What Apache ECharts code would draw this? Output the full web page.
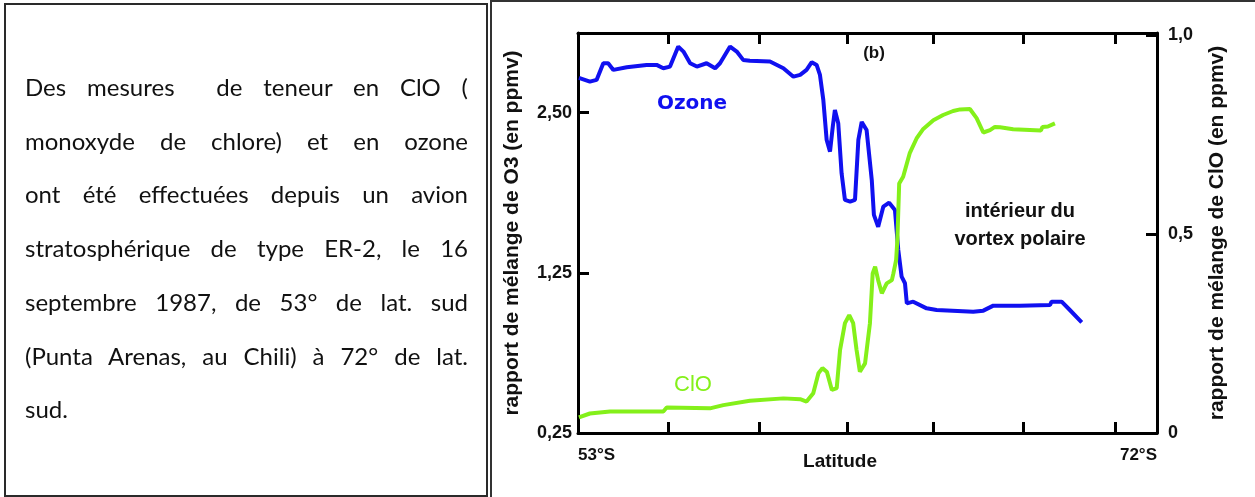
<!DOCTYPE html>
<html>
<head>
<meta charset="utf-8">
<script src="https://cdn.jsdelivr.net/npm/echarts@6/dist/echarts.min.js"></script>
<style>
  html, body { margin: 0; padding: 0; background: #fff; }
  #chart { position: absolute; left: 0; top: 0; width: 1255px; height: 497px; }
  #box {
    position: absolute; left: 4px; top: 3px; width: 480px; height: 490px;
    border: 2px solid #2a2a2a; box-sizing: content-box;
    font-family: "Lato", "Open Sans", sans-serif; font-size: 24px; color: #111;
  }
  #box .ln { position: absolute; left: 19px; width: 443px; text-align: justify; text-align-last: justify; white-space: normal; line-height: 30px; }
  #box .last { text-align: left; text-align-last: left; }
</style>
</head>
<body>
<div id="chart"></div>
<div id="box"></div>
<script>
// ---------- data ----------
const paragraphLines = [
  "Des mesures\u00a0 de teneur en ClO (",
  "monoxyde de chlore) et en ozone",
  "ont été effectuées depuis un avion",
  "stratosphérique de type ER-2, le 16",
  "septembre 1987, de 53° de lat. sud",
  "(Punta Arenas, au Chili) à 72° de lat.",
  "sud."
];

// latitude (°S) of each point
const ozoneLat = [53.03,53.39,53.61,53.83,53.99,54.16,54.60,55.25,55.58,55.80,56.02,56.29,56.46,56.68,56.90,57.22,57.50,57.66,57.99,58.21,58.42,58.64,59.30,59.74,60.07,60.29,60.50,60.67,60.83,60.94,61.05,61.16,61.27,61.36,61.43,61.54,61.65,61.76,61.93,62.09,62.20,62.31,62.47,62.64,62.71,62.85,63.02,63.21,63.40,63.51,63.62,63.73,63.79,64.00,64.44,64.77,65.97,66.30,66.63,67.50,68.49,68.54,68.87,69.14,69.53];
// ozone, in left-axis units
const ozoneVal = [2.771,2.742,2.756,2.886,2.886,2.834,2.855,2.873,2.873,2.847,2.860,3.016,2.977,2.886,2.860,2.886,2.847,2.886,3.016,2.977,2.912,2.906,2.899,2.847,2.781,2.795,2.834,2.894,2.873,2.795,2.600,2.287,2.196,2.391,2.521,2.418,2.027,1.819,1.806,1.819,2.287,2.428,2.365,1.975,1.702,1.610,1.767,1.798,1.741,1.429,1.220,1.169,1.012,1.025,0.973,0.960,0.947,0.955,0.994,0.994,0.999,1.025,1.025,0.960,0.864];

const cloLat = [53.03,53.39,54.05,55.80,55.91,57.33,57.77,58.64,59.74,60.29,60.50,60.72,60.89,61.02,61.17,61.33,61.49,61.60,61.76,61.90,62.03,62.14,62.25,62.42,62.58,62.67,62.75,62.85,62.97,63.13,63.30,63.35,63.44,63.48,63.54,63.67,63.89,64.11,64.33,64.66,64.98,65.31,65.54,65.86,66.08,66.30,66.52,66.68,66.85,67.28,68.19,68.24,68.42,68.65];
// ClO (ppmv), right axis
const cloVal = [0.039,0.049,0.054,0.054,0.064,0.062,0.070,0.081,0.087,0.085,0.079,0.100,0.150,0.163,0.153,0.108,0.113,0.209,0.276,0.296,0.276,0.209,0.154,0.175,0.276,0.401,0.418,0.384,0.351,0.376,0.384,0.401,0.435,0.485,0.627,0.644,0.704,0.740,0.764,0.786,0.799,0.809,0.813,0.814,0.791,0.755,0.761,0.769,0.768,0.763,0.760,0.769,0.770,0.778];

const xTickLat = [55.95, 58.94, 61.83, 64.65, 67.60, 70.62];
const xLabelLat = [53, 72];
const xLabelText = ["53°S", "72°S"];
const leftTickVals = [0, 1.25, 2.5];
const leftTickText = ["0,25", "1,25", "2,50"];
const rightTickVals = [0, 0.5, 1.0];
const rightTickText = ["0", "0,5", "1,0"];

// ---------- paragraph ----------
const box = document.getElementById('box');
paragraphLines.forEach((t, i) => {
  const d = document.createElement('div');
  d.className = 'ln' + (i === paragraphLines.length - 1 ? ' last' : '');
  d.style.top = (67 + i * 53.7) + 'px';
  d.textContent = t;
  box.appendChild(d);
});

// ---------- chart ----------
const chart = echarts.init(document.getElementById('chart'), null, { renderer: 'canvas' });
const FONT = '"Liberation Sans", Arial, sans-serif';
const zip = (a, b) => a.map((v, i) => [v, b[i]]);
const lineAxis = { show: true, onZero: false, lineStyle: { color: '#000', width: 3 } };
const tickIn = (vals) => ({ show: true, inside: true, length: 11, lineStyle: { color: '#000', width: 3 }, customValues: vals });
const lookup = (vals, texts) => (v) => { const i = vals.findIndex(x => Math.abs(x - v) < 1e-6); return i >= 0 ? texts[i] : ''; };
const center = { align: 'center', verticalAlign: 'middle', textAlign: 'center', textVerticalAlign: 'middle' };

chart.setOption({
  animation: false,
  grid: { left: 578, right: 98, top: 33, bottom: 64 },
  xAxis: [
    {
      type: 'value', min: 53, max: 72, position: 'bottom',
      axisLine: lineAxis, splitLine: { show: false },
      axisTick: tickIn(xTickLat),
      axisLabel: {
        customValues: xLabelLat, formatter: lookup(xLabelLat, xLabelText),
        alignMinLabel: 'left', alignMaxLabel: 'right',
        fontFamily: FONT, fontWeight: 'bold', fontSize: 17, color: '#111', margin: 14
      }
    },
    {
      type: 'value', min: 53, max: 72, position: 'top',
      axisLine: lineAxis, splitLine: { show: false },
      axisTick: tickIn(xTickLat), axisLabel: { show: false }
    }
  ],
  yAxis: [
    {
      type: 'value', min: 0, max: 3.122, position: 'left',
      axisLine: lineAxis, splitLine: { show: false },
      axisTick: tickIn(leftTickVals),
      axisLabel: {
        customValues: leftTickVals, formatter: lookup(leftTickVals, leftTickText),
        fontFamily: FONT, fontWeight: 'bold', fontSize: 18, color: '#111', margin: 6
      },
      name: 'rapport de mélange de O3 (en ppmv)', nameLocation: 'middle', nameRotate: 90, nameGap: 55,
      nameTextStyle: { fontFamily: FONT, fontWeight: 'bold', fontSize: 21, color: '#111' }
    },
    {
      type: 'value', min: 0, max: 1.005, position: 'right',
      axisLine: lineAxis, splitLine: { show: false },
      axisTick: tickIn(rightTickVals),
      axisLabel: {
        customValues: rightTickVals, formatter: lookup(rightTickVals, rightTickText),
        fontFamily: FONT, fontWeight: 'bold', fontSize: 18, color: '#111', margin: 11
      },
      name: 'rapport de mélange de ClO (en ppmv)', nameLocation: 'middle', nameRotate: 90, nameGap: 50,
      nameTextStyle: { fontFamily: FONT, fontWeight: 'bold', fontSize: 21, color: '#111' }
    }
  ],
  series: [
    {
      name: 'Ozone', type: 'line', xAxisIndex: 0, yAxisIndex: 0,
      data: zip(ozoneLat, ozoneVal), showSymbol: false, symbol: 'none',
      lineStyle: { color: '#1010f0', width: 4 }, z: 3
    },
    {
      name: 'ClO', type: 'line', xAxisIndex: 0, yAxisIndex: 1,
      data: zip(cloLat, cloVal), showSymbol: false, symbol: 'none',
      lineStyle: { color: '#84f01a', width: 4 }, z: 4
    }
  ],
  graphic: [
    { type: 'line', shape: { x1: 490, y1: 1, x2: 1255, y2: 1 }, style: { stroke: '#333', lineWidth: 2 } },
    { type: 'line', shape: { x1: 491, y1: 0, x2: 491, y2: 497 }, style: { stroke: '#333', lineWidth: 2 } },
    { type: 'text', x: 874, y: 53, style: Object.assign({ text: '(b)', font: 'bold 17px ' + FONT, fill: '#111' }, center) },
    { type: 'text', x: 692, y: 104, style: Object.assign({ text: 'Ozone', font: 'bold 20px "DejaVu Sans", sans-serif', fill: '#1010f0' }, center) },
    { type: 'text', x: 693, y: 385, style: Object.assign({ text: 'ClO', font: '22px ' + FONT, fill: '#84f01a' }, center) },
    { type: 'text', x: 1020, y: 211, style: Object.assign({ text: 'intérieur du', font: 'bold 20px ' + FONT, fill: '#111' }, center) },
    { type: 'text', x: 1020, y: 239, style: Object.assign({ text: 'vortex polaire', font: 'bold 20px ' + FONT, fill: '#111' }, center) },
    { type: 'text', x: 840, y: 462, style: Object.assign({ text: 'Latitude', font: 'bold 19px ' + FONT, fill: '#111' }, center) }
  ]
});
</script>
</body>
</html>
